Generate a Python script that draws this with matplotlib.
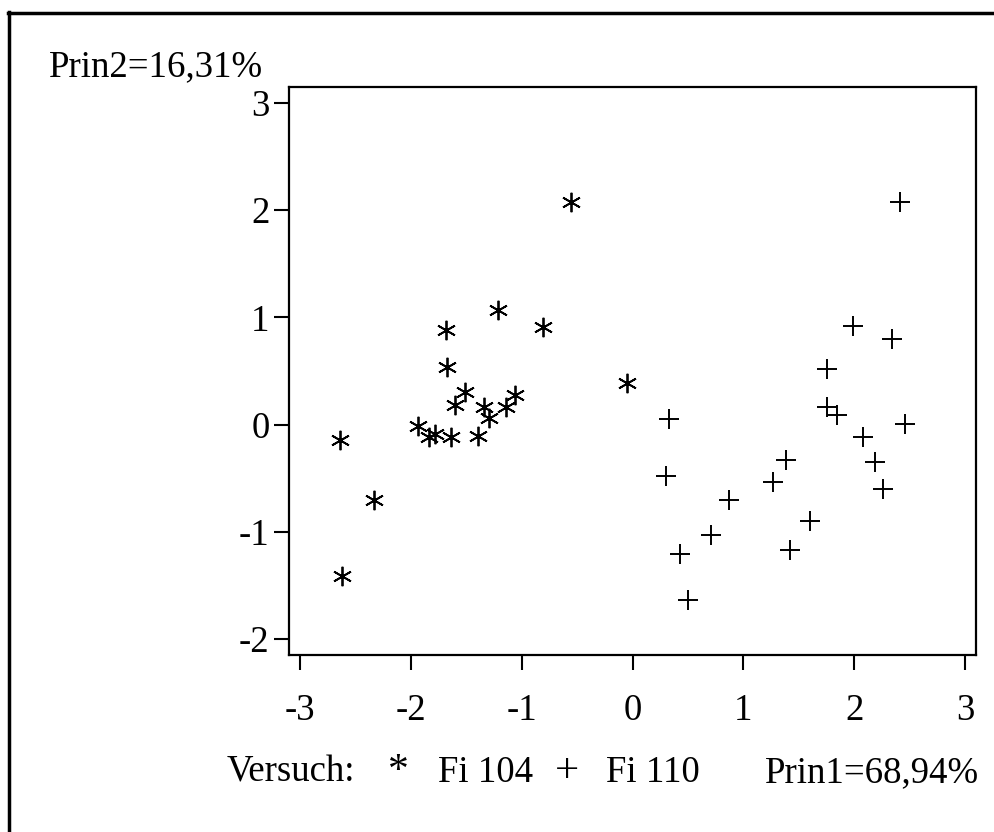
import matplotlib
matplotlib.use("Agg")
import matplotlib.pyplot as plt
from matplotlib.lines import Line2D

# Fi 104 (star) scores
fi104_prin1 = [-2.64, -2.62, -2.33, -1.93, -1.83, -1.78, -1.64, -1.68, -1.67, -1.60,
               -1.51, -1.39, -1.34, -1.29, -1.21, -1.14, -1.06, -0.81, -0.05, -0.55]
fi104_prin2 = [-0.14, -1.41, -0.70, -0.01, -0.12, -0.09, -0.12, 0.88, 0.54, 0.18,
               0.30, -0.11, 0.16, 0.06, 1.07, 0.16, 0.28, 0.91, 0.39, 2.08]

# Fi 110 (plus) scores
fi110_prin1 = [2.41, 1.99, 2.34, 1.75, 1.75, 1.84, 2.46, 2.08, 0.33, 0.30,
               0.43, 0.50, 0.71, 0.87, 1.27, 1.38, 1.42, 1.60, 2.19, 2.26]
fi110_prin2 = [2.08, 0.92, 0.80, 0.52, 0.16, 0.09, 0.01, -0.12, 0.05, -0.48,
               -1.21, -1.64, -1.03, -0.70, -0.54, -0.33, -1.17, -0.90, -0.35, -0.60]

ticks = [-3, -2, -1, 0, 1, 2, 3]
yticks = [-2, -1, 0, 1, 2, 3]

FONT = "Liberation Serif"
FS = 26.5

W, H = 994, 832


def fx(px):
    return px / W


def fy(py):
    return 1 - py / H


def main():
    fig = plt.figure(figsize=(9.94, 8.32), dpi=100)
    ax = fig.add_axes([fx(289), fy(655), fx(976) - fx(289), fy(87) - fy(655)])

    ax.plot(fi104_prin1, fi104_prin2, linestyle="none", marker=(6, 2, 0),
            markersize=14, markeredgewidth=1.3, color="black")
    ax.plot(fi110_prin1, fi110_prin2, linestyle="none", marker="+",
            markersize=14, markeredgewidth=1.4, color="black")

    ax.set_xlim(-3.096, 3.096)
    ax.set_ylim(-2.15, 3.15)
    ax.set_xticks(ticks)
    ax.set_yticks(yticks)
    ax.set_xticklabels([str(t) for t in ticks], fontfamily=FONT, fontsize=FS)
    ax.set_yticklabels([str(t) for t in yticks], fontfamily=FONT, fontsize=FS)
    ax.tick_params(axis="both", direction="out", length=11, width=1.5, color="black")
    ax.tick_params(axis="x", pad=17)
    ax.tick_params(axis="y", pad=3)
    for sp in ax.spines.values():
        sp.set_linewidth(1.6)

    # outer frame (left and top only visible)
    fig.add_artist(Line2D([fx(9), fx(9)], [fy(12), 0], transform=fig.transFigure,
                          color="black", linewidth=2.5))
    fig.add_artist(Line2D([fx(8), 1], [fy(13), fy(13)], transform=fig.transFigure,
                          color="black", linewidth=2.5))

    fig.text(fx(49), fy(76), "Prin2=16,31%", fontfamily=FONT, fontsize=FS,
             ha="left", va="baseline")

    yb = fy(782)
    fig.text(fx(227), yb, "Versuch:", fontfamily=FONT, fontsize=FS, ha="left", va="baseline")
    fig.text(fx(398), yb, "*", fontfamily=FONT, fontsize=30, ha="center", va="baseline")
    fig.text(fx(438), yb, "Fi 104", fontfamily=FONT, fontsize=FS, ha="left", va="baseline")
    fig.text(fx(567), yb, "+", fontfamily=FONT, fontsize=31, ha="center", va="baseline")
    fig.text(fx(606), yb, "Fi 110", fontfamily=FONT, fontsize=FS, ha="left", va="baseline")
    fig.text(fx(979), yb, "Prin1=68,94%", fontfamily=FONT, fontsize=FS, ha="right", va="baseline")

    fig.savefig("out.png", dpi=100)


if __name__ == "__main__":
    main()
